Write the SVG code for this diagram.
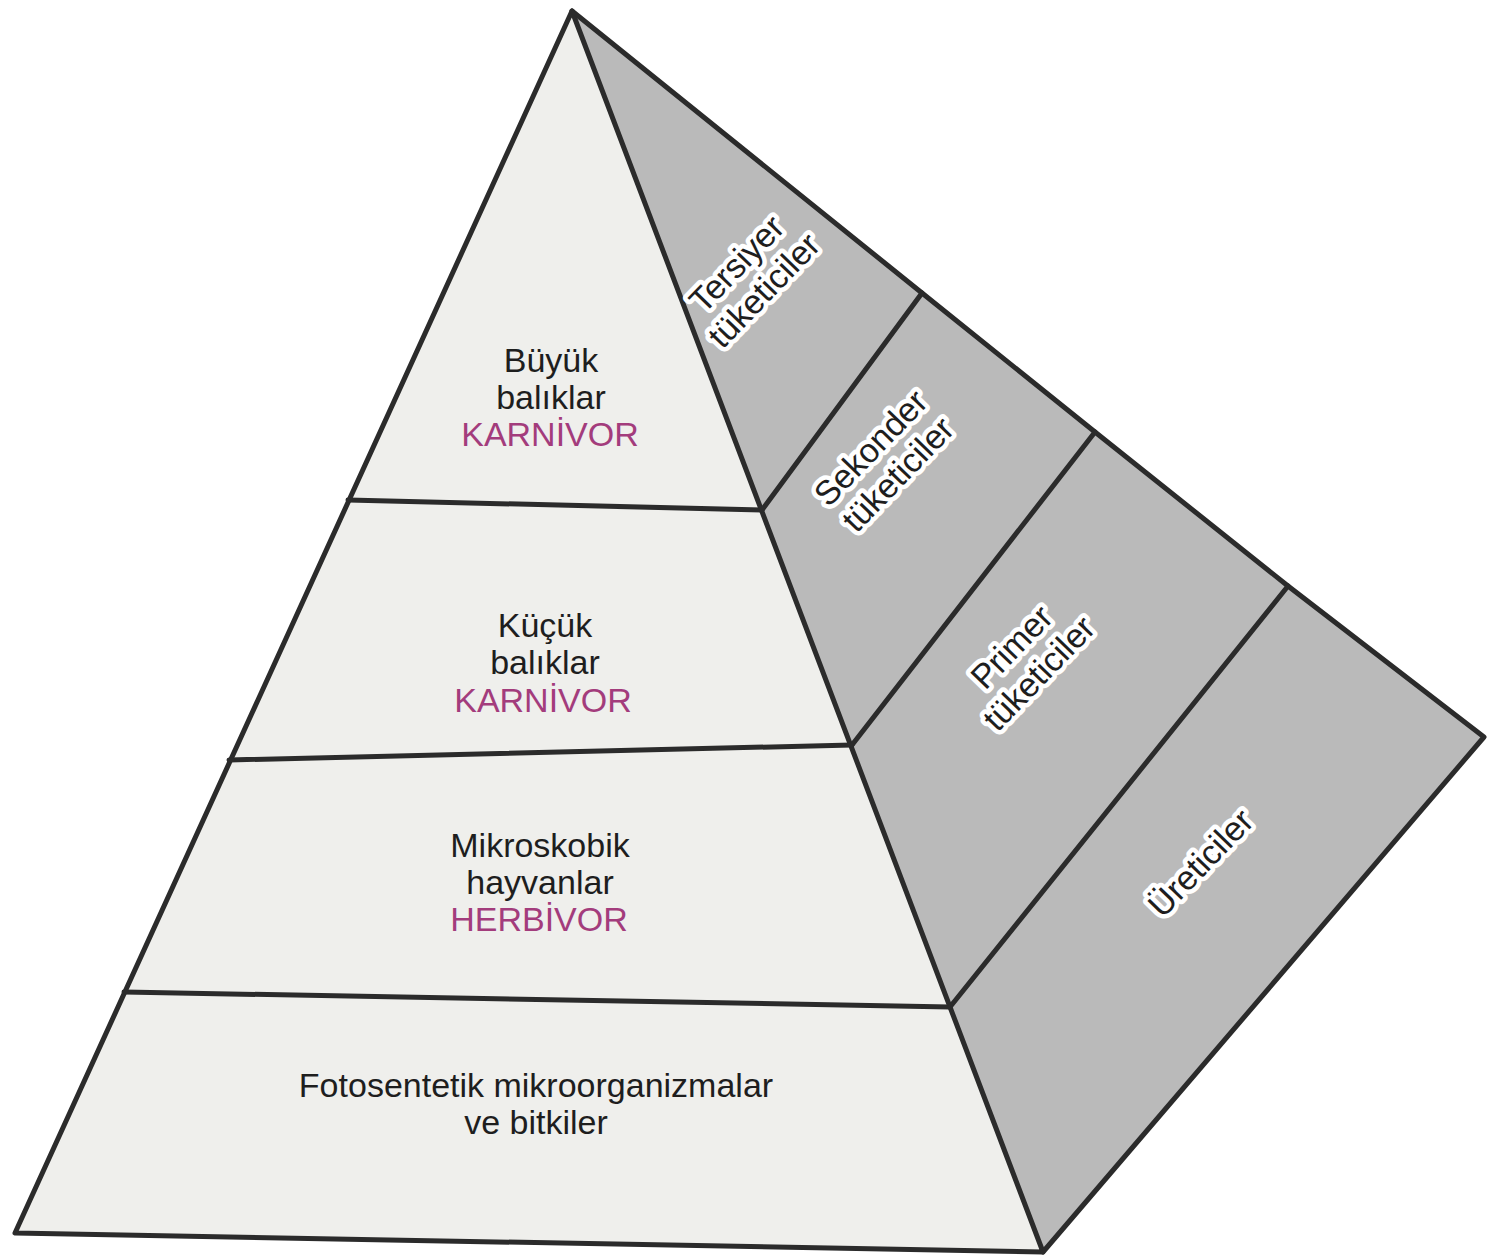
<svg xmlns="http://www.w3.org/2000/svg" width="1496" height="1259" viewBox="0 0 1496 1259">
  <style>
    .edge { fill: none; stroke: #2b2b2b; stroke-width: 5; stroke-linejoin: round; stroke-linecap: round; }
    .front { fill: #efefec; }
    .side { fill: #bababa; }
    .lbl { font-family: "Liberation Sans", Arial, sans-serif; font-size: 34px; fill: #1e1e1e; text-anchor: middle; }
    .diet { fill: #a33c7c; }
    .sidelbl { font-family: "Liberation Sans", Arial, sans-serif; font-size: 34px; fill: #1e1e1e; text-anchor: middle;
               stroke: #ffffff; stroke-width: 9px; stroke-linejoin: round; paint-order: stroke fill; }
  </style>

  <rect width="1496" height="1259" fill="#ffffff"/>

  <!-- faces of the pyramid -->
  <g id="faces">
    <polygon class="side" points="572,11 922,293 1095,432 1288,586 1484,737 1043,1252"/>
    <polygon class="front" points="572,11 15,1233 1043,1252"/>
  </g>

  <!-- outlines and tier dividers -->
  <g id="connectors">
    <polyline class="edge" points="572,11 15,1233 1043,1252 572,11"/>
    <polyline class="edge" points="572,11 922,293 1095,432 1288,586 1484,737 1043,1252"/>
    <line class="edge" x1="348" y1="500" x2="762" y2="510"/>
    <line class="edge" x1="229" y1="760" x2="852" y2="745"/>
    <line class="edge" x1="124" y1="992" x2="950" y2="1007"/>
    <line class="edge" x1="762" y1="510" x2="922" y2="293"/>
    <line class="edge" x1="852" y1="745" x2="1095" y2="432"/>
    <line class="edge" x1="950" y1="1007" x2="1288" y2="586"/>
  </g>

  <!-- front face tiers -->
  <g id="tier-buyuk-baliklar">
    <text class="lbl" x="551" y="372">Büyük</text>
    <text class="lbl" x="551" y="409">balıklar</text>
    <text class="lbl diet" x="550" y="446">KARNİVOR</text>
  </g>
  <g id="tier-kucuk-baliklar">
    <text class="lbl" x="545" y="637">Küçük</text>
    <text class="lbl" x="545" y="674">balıklar</text>
    <text class="lbl diet" x="543" y="712">KARNİVOR</text>
  </g>
  <g id="tier-mikroskobik-hayvanlar">
    <text class="lbl" x="540" y="857">Mikroskobik</text>
    <text class="lbl" x="540" y="894">hayvanlar</text>
    <text class="lbl diet" x="539" y="931">HERBİVOR</text>
  </g>
  <g id="tier-fotosentetik">
    <text class="lbl" x="536" y="1097">Fotosentetik mikroorganizmalar</text>
    <text class="lbl" x="536" y="1134">ve bitkiler</text>
  </g>

  <!-- side face trophic levels -->
  <g id="level-tersiyer" transform="translate(745,272) rotate(-46)">
    <text class="sidelbl" x="0" y="0">Tersiyer</text>
    <text class="sidelbl" x="0" y="38">tüketiciler</text>
  </g>
  <g id="level-sekonder" transform="translate(879,456) rotate(-46)">
    <text class="sidelbl" x="0" y="0">Sekonder</text>
    <text class="sidelbl" x="0" y="38">tüketiciler</text>
  </g>
  <g id="level-primer" transform="translate(1020,655) rotate(-46)">
    <text class="sidelbl" x="0" y="0">Primer</text>
    <text class="sidelbl" x="0" y="38">tüketiciler</text>
  </g>
  <g id="level-ureticiler" transform="translate(1209,871) rotate(-46)">
    <text class="sidelbl" x="0" y="0">Üreticiler</text>
  </g>
</svg>
